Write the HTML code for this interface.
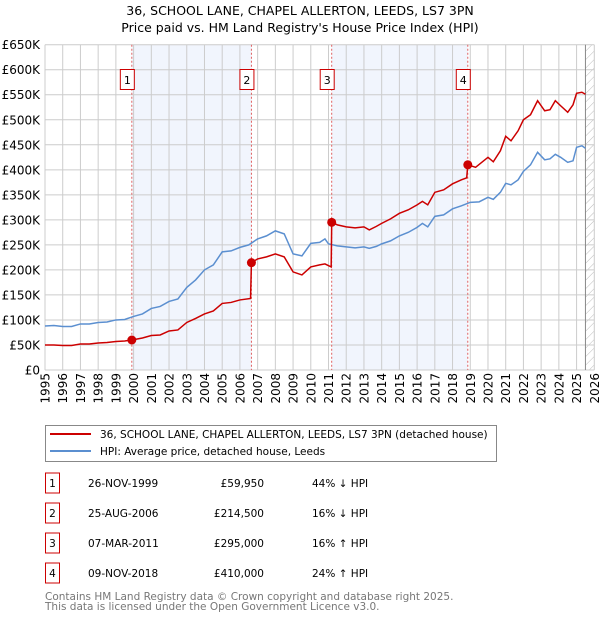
<!DOCTYPE html>
<html><head><meta charset="utf-8"><style>
body{margin:0;background:#fff;font-family:"DejaVu Sans","Liberation Sans",sans-serif;}
svg text{font-family:"DejaVu Sans","Liberation Sans",sans-serif;}
</style></head><body>
<svg id="c" width="600" height="620" xmlns="http://www.w3.org/2000/svg">
<defs><pattern id="hatch" width="6" height="6" patternUnits="userSpaceOnUse" patternTransform="rotate(45)"><line x1="0" y1="0" x2="0" y2="6" stroke="#bbb" stroke-width="1"/></pattern></defs>
<text x="300" y="15" text-anchor="middle" font-size="12.5">36, SCHOOL LANE, CHAPEL ALLERTON, LEEDS, LS7 3PN</text>
<text x="300" y="32" text-anchor="middle" font-size="12.5">Price paid vs. HM Land Registry's House Price Index (HPI)</text>
<g id="plot"></g>
<g>
<rect x="45.5" y="425.5" width="451" height="36" fill="#fff" stroke="#888"/>
<line x1="50" y1="434" x2="91" y2="434" stroke="#cc0000" stroke-width="2"/>
<text x="100" y="438" font-size="10.5">36, SCHOOL LANE, CHAPEL ALLERTON, LEEDS, LS7 3PN (detached house)</text>
<line x1="50" y1="451" x2="91" y2="451" stroke="#5b8fd0" stroke-width="2"/>
<text x="100" y="455" font-size="10.5">HPI: Average price, detached house, Leeds</text>
</g>
<g id="table"></g>
<text x="45" y="600" font-size="10.5" fill="#777">Contains HM Land Registry data © Crown copyright and database right 2025.</text>
<text x="45" y="610" font-size="10.5" fill="#777">This data is licensed under the Open Government Licence v3.0.</text>
</svg>
<script>
const hpiYears=[1995,1995.5,1996,1996.5,1997,1997.5,1998,1998.5,1999,1999.5,2000,2000.5,2001,2001.5,2002,2002.5,2003,2003.5,2004,2004.5,2005,2005.5,2006,2006.5,2007,2007.5,2008,2008.5,2009,2009.5,2010,2010.5,2010.8,2011,2011.5,2012,2012.5,2013,2013.3,2013.7,2014,2014.5,2015,2015.5,2016,2016.3,2016.6,2017,2017.5,2018,2018.5,2019,2019.5,2020,2020.3,2020.7,2021,2021.3,2021.7,2022,2022.4,2022.8,2023.2,2023.5,2023.8,2024.1,2024.5,2024.8,2025,2025.3,2025.5];
const hpiValues=[88,89,87,87,92,92,95,96,100,101,107,112,123,127,137,142,165,180,200,210,236,238,245,250,262,268,278,272,232,228,253,255,262,252,248,246,244,246,243,247,252,258,268,275,285,293,286,307,310,322,328,335,336,345,341,355,373,370,380,397,410,435,420,422,431,425,415,418,445,448,443];
const propYears=[1995,1995.5,1996,1996.5,1997,1997.5,1998,1998.5,1999,1999.5,1999.9,2000.5,2001,2001.5,2002,2002.5,2003,2003.5,2004,2004.5,2005,2005.5,2006,2006.6,2006.65,2007,2007.5,2008,2008.5,2009,2009.5,2010,2010.5,2010.8,2011.15,2011.18,2011.5,2012,2012.5,2013,2013.3,2013.7,2014,2014.5,2015,2015.5,2016,2016.3,2016.6,2017,2017.5,2018,2018.5,2018.8,2018.86,2019.3,2020,2020.3,2020.7,2021,2021.3,2021.7,2022,2022.4,2022.8,2023.2,2023.5,2023.8,2024.1,2024.5,2024.8,2025,2025.3,2025.5];
const propValues=[50,50,49,49,52,52,54,55,57,58,60,64,69,70,78,80,95,103,112,118,133,135,140,143,214.5,222,226,232,226,196,190,206,210,212,206,295,290,286,284,286,280,287,293,302,313,320,330,337,330,355,360,372,380,384,410,405,425,416,438,467,458,478,500,510,538,518,520,538,528,515,530,553,555,551];
const saleYears=[1999.9,2006.65,2011.18,2018.86];
const saleValues=[59.95,214.5,295,410];
const saleLabels=["1","2","3","4"];
const saleDates=["26-NOV-1999","25-AUG-2006","07-MAR-2011","09-NOV-2018"];
const salePrices=["£59,950","£214,500","£295,000","£410,000"];
const saleDiffs=["44% ↓ HPI","16% ↓ HPI","16% ↑ HPI","24% ↑ HPI"];
const yTicks=[0,50,100,150,200,250,300,350,400,450,500,550,600,650];
const yTickLabels=["£0","£50K","£100K","£150K","£200K","£250K","£300K","£350K","£400K","£450K","£500K","£550K","£600K","£650K"];
const xTicks=[1995,1996,1997,1998,1999,2000,2001,2002,2003,2004,2005,2006,2007,2008,2009,2010,2011,2012,2013,2014,2015,2016,2017,2018,2019,2020,2021,2022,2023,2024,2025,2026];

const NS="http://www.w3.org/2000/svg";
const X0=45,X1=594.3,Y0=370,Y1=44.7;
const xs=y=>X0+(y-1995)/(2026-1995)*(X1-X0);
const ys=v=>Y0-v/650*(Y0-Y1);
const plot=document.getElementById('plot');
function mk(tag,attrs,parent){const e=document.createElementNS(NS,tag);for(const k in attrs)e.setAttribute(k,attrs[k]);(parent||plot).appendChild(e);return e;}
for(let i=0;i<saleYears.length;i+=2){
  const r=mk('rect',{x:xs(saleYears[i]),y:Y1,width:xs(saleYears[i+1])-xs(saleYears[i]),height:Y0-Y1,fill:'#eef3fc',opacity:0.8});
  
  
}
const h=mk('rect',{x:xs(2025.5),y:Y1,width:X1-xs(2025.5),height:Y0-Y1,fill:'url(#hatch)'});


xTicks.forEach(t=>{
  const l=mk('line',{x1:xs(t),x2:xs(t),y1:Y1,y2:Y0,stroke:'#cccccc','stroke-width':1});
  
  
  const tx=mk('text',{x:0,y:0,'font-size':12,'text-anchor':'end',transform:`translate(${xs(t)+4.5},373) rotate(-90)`});
  tx.textContent=t;
  
  
});
yTicks.forEach((t,i)=>{
  const l=mk('line',{x1:X0,x2:X1,y1:ys(t),y2:ys(t),stroke:'#cccccc','stroke-width':1});
  
  
  const tx=mk('text',{x:40,y:ys(t)+4.5,'font-size':12,'text-anchor':'end'});
  tx.textContent=yTickLabels[i];
  
  
});
const fl=mk('line',{x1:xs(2025.5),x2:xs(2025.5),y1:Y1,y2:Y0,stroke:'#888','stroke-width':1});


saleYears.forEach((s,i)=>{
  const l=mk('line',{x1:xs(s),x2:xs(s),y1:Y1,y2:Y0,stroke:'#e06060','stroke-width':1,'stroke-dasharray':'2,2'});
  
  
  const b=mk('rect',{x:xs(s)-11.5,y:69.5,width:14,height:20,fill:'#fff',stroke:'#cc0000'});
  
  
  const t=mk('text',{x:xs(s)-4.5,y:84,'font-size':11,'text-anchor':'middle'});
  t.textContent=saleLabels[i];
  
  
});
const hp=mk('polyline',{points:hpiYears.map((y,i)=>xs(y)+','+ys(hpiValues[i])).join(' '),fill:'none',stroke:'#5b8fd0','stroke-width':1.5});


const pp=mk('polyline',{points:propYears.map((y,i)=>xs(y)+','+ys(propValues[i])).join(' '),fill:'none',stroke:'#cc0000','stroke-width':1.5});


saleYears.forEach((s,i)=>{
  const c=mk('circle',{cx:xs(s),cy:ys(saleValues[i]),r:4.5,fill:'#cc0000'});
  
  
});
const tb=document.getElementById('table');
saleLabels.forEach((lab,i)=>{
  const cy=483+30*i;
  const b=mk('rect',{x:45.5,y:cy-10,width:14,height:20,fill:'#fff',stroke:'#cc0000'},tb);
  
  
  const cells=[[52.5,lab,'middle'],[88,saleDates[i],'start'],[264,salePrices[i],'end'],[312,saleDiffs[i],'start']];
  cells.forEach((c,j)=>{
    const t=mk('text',{x:c[0],y:cy+4,'font-size':10.5,'text-anchor':c[2]},tb);
    t.textContent=c[1];
    
    
  });
});
</script>
</body></html>
